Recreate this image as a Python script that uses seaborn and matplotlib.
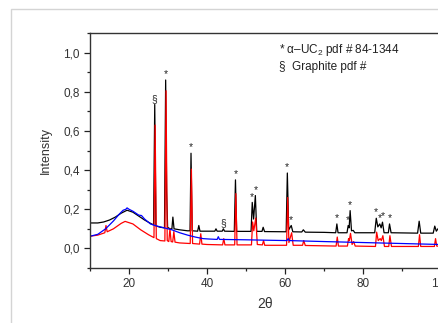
import numpy as np
import pandas as pd
import matplotlib
matplotlib.use("Agg")
import matplotlib.pyplot as plt
import seaborn as sns
from matplotlib.patches import Rectangle
from matplotlib.ticker import MultipleLocator

# XRD traces (2theta, intensity)
black_x = [10, 12, 13.5, 15, 16.5, 18, 19.5, 21, 22.5, 24, 25.5, 26.3, 26.6, 26.9, 28, 29.1,
           29.4, 29.65, 29.9, 30.5, 31.0, 31.25, 31.55, 33, 35, 35.65, 35.9, 36.2, 37.6, 37.9, 38.2,
           40, 42.0, 42.3, 42.6, 43.9, 44.2, 44.5, 47.0, 47.3, 47.6, 51.3, 51.6, 51.95, 52.4,
           52.75, 54.1, 54.4, 54.75, 60.3, 60.6, 60.95, 61.6, 62.0, 64.3, 64.7, 65.2, 70, 73.0,
           73.3, 73.6, 75.9, 76.2, 76.45, 76.7, 77.05, 77.5, 77.9, 83.0, 83.4, 83.8, 84.3, 84.65,
           85.0, 85.4, 86.5, 86.8, 87.2, 94.0, 94.4, 94.8, 98.0, 98.4, 98.8, 99.4, 100]
black_y = [0.13, 0.13, 0.135, 0.145, 0.16, 0.18, 0.195, 0.185, 0.165, 0.145, 0.128, 0.12, 0.735, 0.115, 0.108, 0.105,
           0.86, 0.29, 0.108, 0.1, 0.1, 0.16, 0.1, 0.095, 0.09, 0.09, 0.486, 0.09, 0.088, 0.117, 0.088,
           0.088, 0.088, 0.1, 0.088, 0.088, 0.1, 0.088, 0.087, 0.35, 0.087, 0.087, 0.235, 0.15, 0.27,
           0.087, 0.087, 0.108, 0.086, 0.085, 0.385, 0.095, 0.117, 0.085, 0.084, 0.095, 0.083, 0.082, 0.08,
           0.125, 0.08, 0.08, 0.117, 0.105, 0.193, 0.09, 0.092, 0.08, 0.08, 0.154, 0.11, 0.125, 0.105,
           0.134, 0.08, 0.08, 0.125, 0.08, 0.078, 0.139, 0.078, 0.078, 0.114, 0.088, 0.105, 0.1]

red_x = [10, 12, 13.8, 14.1, 14.4, 16, 18, 19, 21, 23, 25, 26.4, 26.7, 27.0, 28, 29.2, 29.5, 29.8,
         30.2, 30.5, 30.8, 31.2, 31.5, 31.8, 33, 35.7, 36.0, 36.3, 38.1, 38.4, 38.7, 40, 44.0,
         44.3, 44.6, 47.1, 47.4, 47.7, 51.4, 51.7, 52.0, 52.5, 52.9, 54.2, 54.5, 54.8, 60.4, 60.7,
         61.0, 61.7, 62.1, 64.5, 64.8, 65.2, 73.1, 73.4, 73.7, 76.0, 76.3, 76.5, 76.8, 77.2, 77.6,
         78, 83.2, 83.5, 83.9, 84.4, 84.7, 85.1, 85.5, 86.6, 86.9, 87.3, 94.2, 94.5, 94.8, 98.3,
         98.6, 98.9, 100]
red_y = [0.062, 0.068, 0.08, 0.117, 0.085, 0.1, 0.128, 0.138, 0.125, 0.095, 0.07, 0.055, 0.63, 0.05, 0.04, 0.038, 0.805, 0.04,
         0.035, 0.1, 0.035, 0.033, 0.086, 0.032, 0.028, 0.025, 0.405, 0.025, 0.022, 0.075, 0.022, 0.02, 0.018,
         0.05, 0.018, 0.018, 0.28, 0.018, 0.018, 0.135, 0.09, 0.155, 0.02, 0.018, 0.04, 0.016, 0.016, 0.26,
         0.03, 0.08, 0.016, 0.016, 0.04, 0.015, 0.012, 0.058, 0.012, 0.012, 0.05, 0.04, 0.077, 0.02, 0.035,
         0.012, 0.01, 0.083, 0.04, 0.05, 0.04, 0.065, 0.01, 0.01, 0.065, 0.01, 0.01, 0.07, 0.01, 0.01,
         0.05, 0.012, 0.01]

blue_x = [10, 12, 14, 16, 17.5, 18.5, 19.2, 19.5, 20, 21, 22.5, 23.2, 24, 25.5, 27, 29, 31, 33,
          35, 37, 39, 40.5, 42.6, 42.9, 43.2, 50, 55, 60.5, 60.8, 61.1, 70, 80, 90, 100]
blue_y = [0.062, 0.072, 0.1, 0.14, 0.175, 0.195, 0.2, 0.207, 0.2, 0.19, 0.17, 0.168, 0.15, 0.125, 0.115, 0.105, 0.095, 0.08,
          0.068, 0.058, 0.05, 0.048, 0.046, 0.06, 0.046, 0.044, 0.042, 0.04, 0.05, 0.04, 0.035, 0.03, 0.025, 0.02]

# peak labels: symbol, 2theta, top of the black peak
mark_sym = ["§", "*", "*", "§", "*", "*", "*", "*", "*", "*", "*", "*", "*", "*", "*", "*"]
mark_x = [26.6, 29.4, 35.9, 44.2, 47.3, 51.6, 52.4, 60.6, 61.6, 73.3, 76.2, 76.7, 83.4, 84.3, 85.0, 86.8]
mark_y = [0.735, 0.86, 0.486, 0.1, 0.35, 0.235, 0.27, 0.385, 0.117, 0.125, 0.117, 0.193, 0.154, 0.125, 0.134, 0.125]

sns.set_style("ticks")
plt.rcParams["font.family"] = ["Liberation Sans", "DejaVu Sans"]
plt.rcParams["mathtext.fontset"] = "custom"
plt.rcParams["mathtext.rm"] = "Liberation Sans"
plt.rcParams["mathtext.it"] = "Liberation Sans"

fig = plt.figure(figsize=(4.38, 3.23), dpi=100)
fig.patches.append(Rectangle((11 / 438, -0.1), 1.2, 1 - 9 / 323 + 0.1, transform=fig.transFigure,
                             fill=False, edgecolor="#d4d4d4", linewidth=1.0))
ax = fig.add_axes([90 / 438, 1 - 268 / 323, 351 / 438, 235 / 323])

sns.lineplot(x=black_x, y=black_y, ax=ax, color="black", linewidth=0.9, estimator=None, sort=False)
sns.lineplot(x=red_x, y=red_y, ax=ax, color="red", linewidth=0.9, estimator=None, sort=False)
sns.lineplot(x=blue_x, y=blue_y, ax=ax, color="blue", linewidth=0.9, estimator=None, sort=False)

for s, mx, my in zip(mark_sym, mark_x, mark_y):
    ax.annotate(s, (mx, my), xytext=(0, 0.5), textcoords="offset points", ha="center", va="bottom",
                fontsize=7.5 if s == "*" else 7.5, color="#222222")

ax.set_xlim(10, 100)
ax.set_ylim(-0.1, 1.1)
yt = [0.0, 0.2, 0.4, 0.6, 0.8, 1.0]
ax.set_yticks(yt, [f"{v:.1f}".replace(".", ",") for v in yt])
ax.set_xticks([20, 40, 60, 80, 100])
ax.xaxis.set_minor_locator(MultipleLocator(10))
ax.yaxis.set_minor_locator(MultipleLocator(0.1))
ax.tick_params(which="major", length=4, width=0.9, labelsize=8.5, color="#222222", labelcolor="#333333")
ax.tick_params(which="minor", length=2.5, width=0.9, color="#222222")
for sp in ax.spines.values():
    sp.set_color("#333333")
    sp.set_linewidth(1.0)

ax.set_xlabel("2θ", fontsize=10, color="#333333", labelpad=5)
ax.set_ylabel("Intensity", fontsize=9, color="#333333", labelpad=8)

ax.text(0.538, 0.928, "* α–UC$_2$ pdf # 84-1344", transform=ax.transAxes, fontsize=8.5,
        va="center", ha="left", color="#222222")
ax.text(0.538, 0.855, "§  Graphite pdf #", transform=ax.transAxes, fontsize=8.5,
        va="center", ha="left", color="#222222")

fig.savefig("out.png", dpi=100)
